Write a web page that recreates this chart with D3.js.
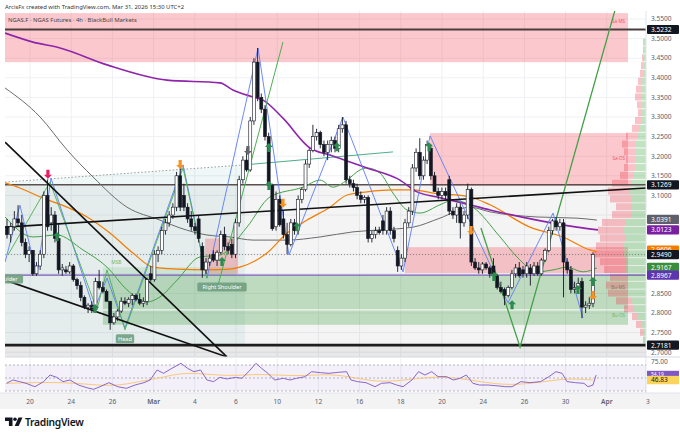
<!DOCTYPE html>
<html>
<head>
<meta charset="utf-8">
<script src="https://cdn.jsdelivr.net/npm/d3@7"></script>
<style>
body { margin: 0; background: #fff; }
svg { display: block; font-family: "Noto Sans", "DejaVu Sans", sans-serif; }
</style>
</head>
<body>
<div id="chart"></div>
<script>
// candles: [open, high, low, close], 4h bars, first bar time in trading days from Feb 20
var firstBarDay = -1.1165;
var barStepDays = 0.17891;
var ohlc = [
  [3.02,3.04,2.99,3.00],[3.00,3.03,2.98,3.02],[3.02,3.06,3.01,3.04],[3.04,3.075,3.02,3.03],
  [3.03,3.05,2.97,2.98],[2.98,2.99,2.94,2.95],[2.95,2.97,2.93,2.96],[2.96,2.96,2.895,2.90],
  [2.90,2.93,2.895,2.92],[2.92,2.96,2.91,2.95],[2.95,3.11,2.94,3.10],[3.10,3.14,3.01,3.02],
  [3.03,3.07,3.01,3.05],[3.05,3.06,2.98,2.99],[2.99,3.03,2.90,2.91],[2.91,2.925,2.895,2.915],
  [2.91,2.92,2.90,2.905],[2.905,2.93,2.90,2.92],[2.92,2.925,2.88,2.885],[2.885,2.89,2.86,2.87],
  [2.87,2.88,2.83,2.84],[2.84,2.845,2.81,2.815],[2.815,2.825,2.80,2.82],[2.82,2.83,2.80,2.81],
  [2.81,2.89,2.80,2.88],[2.88,2.91,2.86,2.865],[2.865,2.88,2.85,2.855],[2.855,2.86,2.83,2.83],
  [2.83,2.83,2.757,2.775],[2.775,2.80,2.77,2.79],[2.79,2.81,2.78,2.805],[2.805,2.84,2.80,2.83],
  [2.83,2.84,2.82,2.825],[2.825,2.84,2.815,2.835],[2.835,2.85,2.82,2.845],[2.845,2.85,2.83,2.835],
  [2.835,2.85,2.82,2.825],[2.825,2.84,2.815,2.83],[2.83,2.89,2.82,2.885],[2.90,2.92,2.88,2.885],
  [2.885,2.96,2.88,2.95],[2.95,2.97,2.93,2.96],[2.96,3.02,2.95,3.01],[3.01,3.04,3.00,3.03],
  [3.03,3.06,3.02,3.05],[3.05,3.08,3.04,3.07],[3.07,3.16,3.06,3.15],[3.15,3.17,3.06,3.07],
  [3.10,3.13,3.06,3.07],[3.07,3.08,3.03,3.04],[3.04,3.06,3.01,3.02],[3.02,3.03,3.00,3.01],
  [3.04,3.05,2.98,2.99],[2.97,2.98,2.89,2.91],[2.91,2.94,2.90,2.93],[2.93,2.95,2.92,2.94],
  [2.95,2.96,2.93,2.935],[2.935,2.96,2.92,2.955],[2.955,3.01,2.95,3.00],[3.00,3.02,2.96,2.97],
  [2.97,2.98,2.95,2.96],[2.975,2.99,2.94,2.95],[2.95,3.04,2.94,3.03],[3.03,3.15,3.02,3.14],
  [3.14,3.20,3.13,3.19],[3.19,3.22,3.16,3.165],[3.165,3.30,3.16,3.29],[3.29,3.45,3.28,3.44],
  [3.44,3.476,3.34,3.35],[3.35,3.36,3.31,3.32],[3.32,3.33,3.24,3.25],[3.25,3.26,3.12,3.125],
  [3.125,3.13,3.01,3.015],[3.02,3.11,3.01,3.09],[3.09,3.10,3.02,3.025],[3.04,3.06,2.99,3.00],
  [3.00,3.03,2.95,2.975],[2.975,3.04,2.97,3.03],[3.03,3.04,3.00,3.01],[3.01,3.10,3.00,3.09],
  [3.09,3.12,3.08,3.115],[3.115,3.19,3.11,3.18],[3.18,3.22,3.17,3.215],[3.215,3.28,3.21,3.25],
  [3.25,3.27,3.24,3.26],[3.26,3.265,3.22,3.23],[3.23,3.24,3.20,3.21],[3.21,3.24,3.19,3.23],
  [3.23,3.25,3.21,3.24],[3.24,3.25,3.21,3.22],[3.22,3.28,3.21,3.27],[3.27,3.30,3.26,3.28],
  [3.28,3.29,3.13,3.14],[3.14,3.15,3.12,3.13],[3.13,3.14,3.11,3.12],[3.12,3.13,3.09,3.10],
  [3.10,3.11,3.08,3.09],[3.09,3.10,3.08,3.095],[3.095,3.10,2.98,2.99],[2.99,3.01,2.98,3.00],
  [3.00,3.02,2.99,3.01],[3.01,3.02,3.00,3.005],[3.035,3.05,3.00,3.01],[3.01,3.07,3.00,3.06],
  [3.06,3.07,3.00,3.01],[3.01,3.02,2.98,2.99],[2.96,2.97,2.905,2.92],[2.92,2.95,2.91,2.94],
  [2.94,3.04,2.93,3.03],[3.03,3.07,3.02,3.06],[3.06,3.18,3.05,3.17],[3.17,3.22,3.16,3.21],
  [3.21,3.246,3.14,3.15],[3.15,3.20,3.14,3.19],[3.19,3.24,3.18,3.23],[3.22,3.23,3.14,3.15],
  [3.15,3.16,3.11,3.11],[3.11,3.12,3.09,3.10],[3.10,3.12,3.09,3.11],[3.11,3.12,3.09,3.10],
  [3.14,3.15,3.05,3.06],[3.06,3.07,3.04,3.05],[3.05,3.08,3.03,3.07],[3.07,3.08,2.99,3.03],
  [3.03,3.06,3.02,3.05],[3.05,3.13,3.04,3.115],[3.115,3.12,2.92,2.93],[2.93,2.94,2.91,2.915],
  [2.915,2.93,2.90,2.91],[2.91,2.93,2.90,2.925],[2.925,2.93,2.91,2.915],[2.915,2.92,2.89,2.90],
  [2.92,2.94,2.89,2.895],[2.895,2.90,2.86,2.865],[2.865,2.88,2.85,2.855],[2.86,2.865,2.82,2.845],
  [2.845,2.87,2.84,2.865],[2.865,2.91,2.86,2.90],[2.90,2.925,2.89,2.915],[2.915,2.93,2.89,2.895],
  [2.91,2.92,2.89,2.90],[2.90,2.93,2.89,2.92],[2.915,2.925,2.87,2.90],[2.90,2.93,2.895,2.92],
  [2.92,2.93,2.895,2.90],[2.90,2.94,2.895,2.935],[2.935,2.965,2.93,2.96],[2.96,3.02,2.955,3.01],
  [3.01,3.04,3.00,3.035],[3.035,3.045,3.01,3.02],[3.02,3.04,3.01,3.03],[3.03,3.04,2.84,2.93],
  [2.93,2.94,2.90,2.91],[2.91,2.92,2.85,2.86],[2.86,2.88,2.85,2.865],[2.865,2.89,2.86,2.875],
  [2.88,2.89,2.787,2.815],[2.815,2.83,2.80,2.82],[2.82,2.84,2.81,2.825],[2.825,2.955,2.815,2.949]
];

// time axis
var dayTicks = [0,2,4,6,8,10,12,14,16,18,20,22,24,26,28,30];
var dayLabels = ["20","24","26","Mar","4","6","10","12","16","18","20","24","26","30","Apr","3"];
var priceTicks = [3.55,3.50,3.45,3.40,3.35,3.30,3.25,3.20,3.15,3.10,3.05,3.00,2.95,2.90,2.85,2.80,2.75,2.70];

// moving averages: [day, price]
var maPurple = [[-1.21,3.514],[0.15,3.491],[1.46,3.476],[3.74,3.433],[6.65,3.394],[9.22,3.387],[9.85,3.369],
  [10.83,3.351],[11.31,3.343],[12.28,3.297],[13.59,3.221],[14.56,3.203],[16.36,3.170],[17.96,3.139],
  [18.79,3.109],[19.76,3.096],[21.36,3.076],[22.33,3.063],[24.61,3.037],[26.55,3.019],[27.57,3.012]];
var maOrange = [[-1.21,3.132],[-0.49,3.119],[0.63,3.093],[1.80,3.070],[2.77,3.045],[3.88,3.004],[5.0,2.953],
  [5.97,2.917],[7.14,2.912],[8.59,2.910],[9.71,2.912],[10.19,2.917],[11.50,2.953],[12.48,3.004],[13.45,3.037],
  [14.56,3.070],[15.39,3.101],[16.36,3.109],[17.62,3.114],[18.59,3.114],[19.56,3.106],[21.36,3.096],
  [22.33,3.076],[24.27,3.019],[25.87,2.994],[27.18,2.961],[27.52,2.956]];
var maGreen = [[-1.21,3.045],[0.15,2.994],[1.31,2.999],[2.57,2.961],[3.74,2.917],[4.71,2.859],[5.68,2.828],
  [6.31,2.841],[7.14,2.884],[8.25,2.943],[9.22,2.948],[10.53,3.019],[11.65,3.096],[13.25,3.121],[14.08,3.139],
  [14.71,3.121],[15.39,3.139],[16.02,3.165],[16.36,3.170],[16.99,3.157],[17.62,3.106],[18.30,3.063],
  [18.93,3.055],[19.90,3.076],[20.53,3.088],[21.50,3.070],[22.82,2.994],[23.64,2.943],[24.61,2.905],
  [25.39,2.910],[26.07,2.917],[26.84,2.905],[27.52,2.915]];
var maGray = [[-1.21,3.374],[0.49,3.300],[1.80,3.216],[3.06,3.147],[4.71,3.070],[6.31,3.037],[7.28,3.017],
  [8.59,2.999],[9.71,2.994],[10.83,2.986],[12.48,2.986],[14.08,2.994],[15.68,3.007],[16.99,3.012],
  [18.59,3.019],[19.90,3.042],[21.36,3.070],[22.33,3.058],[24.61,3.045],[26.55,3.042],[27.52,3.037]];

// swing lines
var zigBlue = [[-1.21,2.930],[-0.49,3.075],[0.34,2.897],[1.02,3.144],[3.11,2.808],[3.74,2.889],[4.61,2.762],
  [7.43,3.178],[8.59,2.889],[11.07,3.476],[12.57,2.948],[15.19,3.300],[18.11,2.905],[19.42,3.252],
  [23.20,2.826],[25.39,3.055],[26.84,2.787]];
var zigGreen = [[-1.07,2.948],[0.97,3.134],[3.25,2.808],[3.74,2.910],[4.61,2.757],[7.43,3.170],[8.59,2.889]];
var greenRay = [[9.13,2.871],[12.28,3.491]];
var greenV = [[21.89,3.017],[23.79,2.713],[28.40,3.573]];
var dottedRange = [[-1.21,3.134],[10.44,3.178]];
var tealLine = [[10.44,3.178],[17.62,3.211]];

// trend lines
var trendRise = [[-1.21,3.019],[29.90,3.119]];
var trendFallSteep = [[-1.21,3.236],[9.56,2.688]];
var trendFallFlat = [[-1.21,2.884],[9.56,2.688]];

// horizontal levels
var levelTop = 3.5232, levelMid = 3.1269, levelLow = 2.7181, pivotLevel = 2.8967, lastPrice = 2.9490;

// zones: [day0, day1, priceLow, priceHigh]
var supplyZones = [[-1.2136,29.03,3.44,3.565],[19.42,29.03,3.124,3.259],[18.2,29.03,2.902,2.968],[8.5,10.1,2.90,2.99]];
var demandZones = [[3.54,29.03,2.77,2.895],[3.54,10.0,2.895,2.917]];
var zoneNames = ["Sa-MS","Sa-OS","Bu-MS","Bu-OS"];
var zoneNamePrices = [3.54,3.19,2.86,2.79];

// visible range volume profile (0.02 bins)
var profilePrices = [3.49,3.47,3.45,3.43,3.41,3.39,3.37,3.35,3.33,3.31,3.29,3.27,3.25,3.23,3.21,3.19,3.17,3.15,3.13,
  3.11,3.09,3.07,3.05,3.03,3.01,2.99,2.97,2.95,2.93,2.91,2.89,2.87,2.85,2.83,2.81,2.79,2.77,2.75,2.73];
var profileUp = [2,2,2,3,3,4,4,5,5,4,5,6,9,11,11,10,11,12,14,16,15,14,15,20,22,20,22,22,20,20,18,18,18,14,12,8,5,3,2];
var profileDown = [1,1,2,2,3,4,6,6,4,4,6,8,11,13,11,10,11,14,20,22,21,16,19,24,26,26,28,30,26,22,18,22,20,16,10,6,5,3,1];

// signal markers [day, price]
var upSignals = [[1.31,2.994],[3.16,2.810],[9.32,2.930],[11.6,3.221],[11.6,3.124],[12.96,3.019],[14.9,3.223],
  [19.37,3.223],[22.52,2.892],[23.40,2.820],[26.6,2.859],[27.33,2.879]];
var downOrange = [[7.29,3.18],[12.28,3.081],[21.41,3.012],[27.33,2.846]];
var downPink = [[0.87,3.155]];
var downGray = [[10.58,3.216]];

// pattern labels
var patternNames = ["Left Shoulder","Head","Right Shoulder"];
var patternDays = [-1.46,4.61,9.32];
var patternPrices = [2.91,2.757,2.889];

// RSI pane
var rsiPts = [[-1.14,41.8],[-0.83,46.9],[-0.50,44.4],[-0.19,41.8],[0.24,36.6],[0.66,44.4],[0.97,54.6],[1.30,51],
  [1.60,44.4],[1.94,46.9],[2.35,39.2],[2.77,35],[3.09,32.6],[3.40,36.6],[3.83,42.8],[4.26,36.6],[4.68,34.1],
  [5.10,39.2],[5.53,42.8],[5.83,46.9],[6.17,62.3],[6.48,57.2],[6.89,64.9],[7.33,72.6],[7.65,64.9],[7.96,59.7],
  [8.28,62.3],[8.59,46.9],[8.91,44.4],[9.22,51],[9.55,48.5],[9.97,51],[10.29,49.5],[10.61,59.7],[10.97,72.6],
  [11.24,64.9],[11.55,57.2],[11.87,46.9],[12.30,49.5],[12.62,46.9],[12.93,49.5],[13.35,52],[13.67,59.7],
  [14.10,58.2],[14.51,57.2],[14.94,58.7],[15.37,59.7],[15.58,46.9],[15.90,44.4],[16.31,42.8],[16.75,36.6],
  [17.06,41.8],[17.48,42.8],[17.80,39.2],[18.11,36.6],[18.54,46.9],[18.86,59.7],[19.17,54.6],[19.50,59.7],
  [19.81,52],[20.23,52],[20.55,46.9],[20.87,49.5],[21.18,54.6],[21.50,41.8],[21.82,39.2],[22.24,39.2],
  [22.67,38],[23.09,36.6],[23.40,36.6],[23.83,44.4],[24.27,42.8],[24.78,44.4],[25.19,52],[25.53,59.7],
  [25.83,57.2],[26.07,44.4],[26.48,42.8],[26.89,41.8],[27.09,36.6],[27.33,39.2],[27.48,54.6]];
var rsiMaPts = [[-1.14,41.8],[1.70,44.4],[3.83,36.6],[4.90,41.8],[6.60,52],[7.62,59.7],[9.56,52],[11.21,57],
  [12.91,52],[14.61,57],[15.87,49.5],[17.14,42.8],[18.83,49.5],[20.10,53],[21.84,44.4],[23.30,38],[25.0,44.4],
  [26.07,49.5],[27.33,47]];
var rsiBands = [70,50,30];

// last-value tags on the price scale
var tagValues = [3.5232,3.1269,3.0391,3.0123,2.9606,2.9490,2.9167,2.8967,2.7181];
var tagKinds = ["level","level","sma","ema200","ema50","last","ema20","pivot","level"];

function init() {
    var w = 680;
    var h = 437;

    var plotL = 5, plotR = 646, plotT = 11, plotB = 357;
    var rsiT = 357, rsiB = 393;

    var x = d3.scaleLinear().domain([-1.2136, 29.903]).range([plotL, plotR]);
    var y = d3.scaleLinear().domain([2.6878, 3.5704]).range([plotB, plotT]);
    var yr = d3.scaleLinear().domain([30, 70]).range([391, 365]);
    var vol = d3.scaleLinear().domain([0, 60]).range([0, 60]);

    var tagColor = {level: "#131722", sma: "#5d606b", ema200: "#7b1fa2", ema50: "#f57c00",
                    last: "#131722", ema20: "#388e3c", pivot: "#5e35b1"};

    var svg = d3.select("#chart")
        .append("svg")
        .attr("width", w)
        .attr("height", h);

    svg.append("rect").attr("width", w).attr("height", h).attr("fill", "#fff");

    var defs = svg.append("defs");
    defs.append("clipPath").attr("id", "plotClip")
        .append("rect").attr("x", plotL).attr("y", plotT).attr("width", plotR - plotL).attr("height", plotB - plotT);
    defs.append("clipPath").attr("id", "rsiClip")
        .append("rect").attr("x", plotL).attr("y", rsiT).attr("width", plotR - plotL).attr("height", rsiB - rsiT);

    var line = d3.line().x(function(d){ return x(d[0]); }).y(function(d){ return y(d[1]); });
    var smooth = d3.line().x(function(d){ return x(d[0]); }).y(function(d){ return y(d[1]); })
        .curve(d3.curveMonotoneX);

    var plot = svg.append("g").attr("clip-path", "url(#plotClip)");

    // grid
    plot.selectAll(".vg").data(dayTicks).enter().append("line")
        .attr("x1", function(d){ return x(d); }).attr("x2", function(d){ return x(d); })
        .attr("y1", plotT).attr("y2", plotB)
        .attr("stroke", "#eef0f3").attr("stroke-width", 1);
    plot.selectAll(".hg").data(priceTicks).enter().append("line")
        .attr("x1", plotL).attr("x2", plotR)
        .attr("y1", function(d){ return y(d); }).attr("y2", function(d){ return y(d); })
        .attr("stroke", "#eef0f3").attr("stroke-width", 1);

    // range backgrounds
    plot.append("rect")
        .attr("x", plotL).attr("width", plotR - plotL)
        .attr("y", y(levelMid)).attr("height", y(levelLow) - y(levelMid))
        .attr("fill", "#000").attr("opacity", 0.045);
    plot.append("rect")
        .attr("x", plotL).attr("width", plotR - plotL)
        .attr("y", y(levelLow)).attr("height", plotB - y(levelLow))
        .attr("fill", "#000").attr("opacity", 0.09);
    plot.append("path")
        .attr("d", line([dottedRange[0], dottedRange[1], [dottedRange[1][0], levelLow], [dottedRange[0][0], levelLow]]) + "Z")
        .attr("fill", "#00897b").attr("opacity", 0.06);

    // zones
    plot.selectAll(".sz").data(supplyZones).enter().append("rect")
        .attr("x", function(d){ return x(d[0]); })
        .attr("width", function(d){ return x(d[1]) - x(d[0]); })
        .attr("y", function(d){ return y(d[3]); })
        .attr("height", function(d){ return y(d[2]) - y(d[3]); })
        .attr("fill", "#f23645").attr("fill-opacity", 0.27);
    plot.selectAll(".dz").data(demandZones).enter().append("rect")
        .attr("x", function(d){ return x(d[0]); })
        .attr("width", function(d){ return x(d[1]) - x(d[0]); })
        .attr("y", function(d){ return y(d[3]); })
        .attr("height", function(d){ return y(d[2]) - y(d[3]); })
        .attr("fill", function(d, i){ return i === 0 ? "#43a047" : "#66bb6a"; })
        .attr("fill-opacity", function(d, i){ return i === 0 ? 0.3 : 0.18; });
    plot.append("line")
        .attr("x1", x(demandZones[0][0])).attr("x2", x(demandZones[0][1]))
        .attr("y1", y(2.808)).attr("y2", y(2.808))
        .attr("stroke", "#fff").attr("stroke-width", 1.2).attr("opacity", 0.8);

    // volume profile
    var binH = y(3.47) - y(3.49);
    var prof = plot.append("g");
    prof.selectAll(".pu").data(profilePrices).enter().append("rect")
        .attr("x", function(d, i){ return plotR - vol(profileUp[i]); })
        .attr("width", function(d, i){ return vol(profileUp[i]); })
        .attr("y", function(d){ return y(d) - binH / 2; })
        .attr("height", binH - 0.8)
        .attr("fill", "#4caf50").attr("fill-opacity", 0.35);
    prof.selectAll(".pd").data(profilePrices).enter().append("rect")
        .attr("x", function(d, i){ return plotR - vol(profileUp[i]) - vol(profileDown[i]); })
        .attr("width", function(d, i){ return vol(profileDown[i]); })
        .attr("y", function(d){ return y(d) - binH / 2; })
        .attr("height", binH - 0.8)
        .attr("fill", "#f23645").attr("fill-opacity", 0.3);

    // zone names
    plot.selectAll(".zn").data(zoneNames).enter().append("text")
        .attr("x", x(29.03) - 3).attr("y", function(d, i){ return y(zoneNamePrices[i]); })
        .attr("text-anchor", "end").attr("font-size", 4.5)
        .attr("fill", function(d, i){ return ["#f7525f","#f7525f","#8d6e63","#66bb6a"][i]; })
        .text(function(d){ return d; });

    // dotted range line and teal line
    plot.append("path").attr("d", line(dottedRange)).attr("fill", "none")
        .attr("stroke", "#9e9e9e").attr("stroke-width", 1).attr("stroke-dasharray", "1.5,2");
    plot.append("path").attr("d", line(tealLine)).attr("fill", "none")
        .attr("stroke", "#4caf8a").attr("stroke-width", 1);

    // horizontal levels
    plot.append("line").attr("x1", plotL).attr("x2", plotR)
        .attr("y1", y(levelTop)).attr("y2", y(levelTop))
        .attr("stroke", "#4a3c3c").attr("stroke-width", 2.2);
    plot.append("line").attr("x1", plotL).attr("x2", plotR)
        .attr("y1", y(levelMid)).attr("y2", y(levelMid))
        .attr("stroke", "#5a5050").attr("stroke-width", 1.5);
    plot.append("line").attr("x1", plotL).attr("x2", plotR)
        .attr("y1", y(levelLow)).attr("y2", y(levelLow))
        .attr("stroke", "#1e1e1e").attr("stroke-width", 2.6);
    plot.append("line").attr("x1", plotL).attr("x2", plotR)
        .attr("y1", y(pivotLevel)).attr("y2", y(pivotLevel))
        .attr("stroke", "#5e35b1").attr("stroke-width", 1);
    plot.append("line").attr("x1", plotL).attr("x2", plotR)
        .attr("y1", y(lastPrice)).attr("y2", y(lastPrice))
        .attr("stroke", "#777").attr("stroke-width", 0.8).attr("stroke-dasharray", "1,2");

    // moving averages
    plot.append("path").attr("d", smooth(maGray)).attr("fill", "none").attr("stroke", "#6b6b6b").attr("stroke-width", 1);
    plot.append("path").attr("d", smooth(maGreen)).attr("fill", "none").attr("stroke", "#43a047").attr("stroke-width", 1);
    plot.append("path").attr("d", smooth(maOrange)).attr("fill", "none").attr("stroke", "#f57c00").attr("stroke-width", 1.2);
    plot.append("path").attr("d", smooth(maPurple)).attr("fill", "none").attr("stroke", "#8e24aa").attr("stroke-width", 1.6);

    // swing lines
    plot.append("path").attr("d", line(zigBlue)).attr("fill", "none").attr("stroke", "#5c7cfa").attr("stroke-width", 0.9);
    plot.append("path").attr("d", line(zigGreen)).attr("fill", "none").attr("stroke", "#4caf50").attr("stroke-width", 0.9);
    plot.append("path").attr("d", line(greenRay)).attr("fill", "none").attr("stroke", "#4caf50").attr("stroke-width", 1);
    plot.append("path").attr("d", line(greenV)).attr("fill", "none").attr("stroke", "#43a047").attr("stroke-width", 1.3);

    // trend lines
    [trendRise, trendFallSteep, trendFallFlat].forEach(function(t){
        plot.append("path").attr("d", line(t)).attr("fill", "none")
            .attr("stroke", "#111").attr("stroke-width", 1.6);
    });

    // candles
    var bw = 3;
    var candles = plot.selectAll(".candle").data(ohlc).enter().append("g");
    candles.append("line")
        .attr("x1", function(d, i){ return x(firstBarDay + i * barStepDays); })
        .attr("x2", function(d, i){ return x(firstBarDay + i * barStepDays); })
        .attr("y1", function(d){ return y(d[1]); })
        .attr("y2", function(d){ return y(d[2]); })
        .attr("stroke", "#131722").attr("stroke-width", 0.9);
    candles.append("rect")
        .attr("x", function(d, i){ return x(firstBarDay + i * barStepDays) - bw / 2; })
        .attr("width", bw)
        .attr("y", function(d){ return y(Math.max(d[0], d[3])); })
        .attr("height", function(d){ return Math.max(0.8, Math.abs(y(d[0]) - y(d[3]))); })
        .attr("fill", function(d){ return d[3] >= d[0] ? "#fff" : "#131722"; })
        .attr("stroke", "#131722").attr("stroke-width", 0.6);

    // signal arrows
    var upPath = "M0,-5 L4,-1 L1.6,-1 L1.6,4 L-1.6,4 L-1.6,-1 L-4,-1 Z";
    var downPath = "M0,5 L4,1 L1.6,1 L1.6,-4 L-1.6,-4 L-1.6,1 L-4,1 Z";
    function arrows(data, path, color) {
        plot.selectAll(null).data(data).enter().append("path")
            .attr("d", path)
            .attr("transform", function(d){ return "translate(" + x(d[0]) + "," + y(d[1]) + ")"; })
            .attr("fill", color);
    }
    arrows(upSignals, upPath, "#2e8b4f");
    arrows(downOrange, downPath, "#f7931e");
    arrows(downPink, downPath, "#e91e63");
    arrows(downGray, downPath, "#666");

    // pattern labels
    var pl = plot.selectAll(".pl").data(patternNames).enter().append("g")
        .attr("transform", function(d, i){ return "translate(" + x(patternDays[i]) + "," + (y(patternPrices[i]) + 9) + ")"; });
    pl.append("rect")
        .attr("x", function(d){ return -d.length * 1.55 - 3; })
        .attr("width", function(d){ return d.length * 3.1 + 6; })
        .attr("y", -4.5).attr("height", 9).attr("rx", 1.5)
        .attr("fill", "#6f9f80").attr("opacity", 0.9);
    pl.append("text").attr("text-anchor", "middle").attr("y", 2)
        .attr("font-size", 5.6).attr("fill", "#fff").text(function(d){ return d; });
    plot.append("text").attr("x", x(3.95)).attr("y", y(2.925))
        .attr("font-size", 4.8).attr("fill", "#66bb6a").text("MSB");

    // separators, axis background
    svg.append("rect").attr("x", plotR).attr("y", 0).attr("width", w - plotR).attr("height", 409).attr("fill", "#fff");
    svg.append("line").attr("x1", plotR).attr("x2", plotR).attr("y1", plotT).attr("y2", 409)
        .attr("stroke", "#e0e3eb");
    svg.append("line").attr("x1", plotL).attr("x2", w).attr("y1", plotB).attr("y2", plotB)
        .attr("stroke", "#d6d9e0");

    // price axis; tick labels hidden where a value tag sits on them
    var freeTicks = priceTicks.filter(function(p){
        return tagValues.every(function(t){ return Math.abs(y(p) - y(t)) > 7; });
    });
    svg.selectAll(".pt").data(freeTicks).enter().append("text")
        .attr("x", 651).attr("y", function(d){ return y(d) + 2.3; })
        .attr("font-size", 6.6).attr("fill", "#5d606b")
        .text(function(d){ return d.toFixed(4); });
    var tags = svg.selectAll(".tag").data(tagValues).enter().append("g")
        .attr("transform", function(d){ return "translate(647," + y(d) + ")"; });
    tags.append("rect").attr("x", 0).attr("y", -4.6).attr("width", 32).attr("height", 9.2).attr("rx", 1)
        .attr("fill", function(d, i){ return tagColor[tagKinds[i]]; });
    tags.append("text").attr("x", 4).attr("y", 2.4).attr("font-size", 6.6).attr("fill", "#fff")
        .text(function(d){ return d.toFixed(4); });

    // RSI pane
    var rsi = svg.append("g").attr("clip-path", "url(#rsiClip)");
    rsi.selectAll(".rg").data(dayTicks).enter().append("line")
        .attr("x1", function(d){ return x(d); }).attr("x2", function(d){ return x(d); })
        .attr("y1", rsiT).attr("y2", rsiB).attr("stroke", "#eef0f3");
    rsi.append("rect").attr("x", plotL).attr("width", plotR - plotL)
        .attr("y", yr(70)).attr("height", yr(30) - yr(70))
        .attr("fill", "#7e57c2").attr("opacity", 0.09);
    rsi.selectAll(".rb").data(rsiBands).enter().append("line")
        .attr("x1", plotL).attr("x2", plotR)
        .attr("y1", function(d){ return yr(d); }).attr("y2", function(d){ return yr(d); })
        .attr("stroke", "#9598a1").attr("stroke-width", 0.7).attr("stroke-dasharray", "2,2");
    var rline = d3.line().x(function(d){ return x(d[0]); }).y(function(d){ return yr(d[1]); });
    rsi.append("path").attr("d", rline.curve(d3.curveBasis)(rsiMaPts)).attr("fill", "none")
        .attr("stroke", "#f9c97a").attr("stroke-width", 1);
    rsi.append("path").attr("d", rline.curve(d3.curveLinear)(rsiPts)).attr("fill", "none")
        .attr("stroke", "#7e57c2").attr("stroke-width", 0.9);

    svg.append("text").attr("x", 651).attr("y", yr(75) + 2.3).attr("font-size", 6.6).attr("fill", "#5d606b").text("75.00");
    var lastRsi = rsiPts[rsiPts.length - 1][1];
    var lastMa = 46.83;
    svg.append("rect").attr("x", 647).attr("y", yr(lastRsi) - 4.2).attr("width", 32).attr("height", 8.4).attr("fill", "#7e57c2");
    svg.append("text").attr("x", 651).attr("y", yr(lastRsi) + 1).attr("font-size", 5).attr("fill", "#fff").text("54.19");
    svg.append("rect").attr("x", 647).attr("y", yr(lastMa) - 4.2).attr("width", 32).attr("height", 8.4).attr("fill", "#fbd55b");
    svg.append("text").attr("x", 651).attr("y", yr(lastMa) + 2.2).attr("font-size", 6.6).attr("fill", "#131722").text(lastMa.toFixed(2));

    // time axis
    svg.append("rect").attr("x", 0).attr("y", rsiB).attr("width", w).attr("height", 16).attr("fill", "#f3f3f3");
    svg.append("line").attr("x1", 0).attr("x2", w).attr("y1", rsiB).attr("y2", rsiB).attr("stroke", "#e0e3eb");
    svg.selectAll(".tl").data(dayTicks).enter().append("text")
        .attr("x", function(d){ return x(d); }).attr("y", 403.5)
        .attr("text-anchor", "middle").attr("font-size", 6.6)
        .attr("font-weight", function(d, i){ return (dayLabels[i] === "Mar" || dayLabels[i] === "Apr") ? 600 : 400; })
        .attr("fill", "#5d606b")
        .text(function(d, i){ return dayLabels[i]; });

    // header
    svg.append("text").attr("x", 5).attr("y", 8.5).attr("font-size", 5.9).attr("fill", "#333")
        .text("ArcisFx created with TradingView.com, Mar 31, 2026 15:30 UTC+2");
    svg.append("text").attr("x", 8).attr("y", 22).attr("font-size", 5.9).attr("fill", "#444")
        .text("NGAS.F · NGAS Futures · 4h · BlackBull Markets");

    // TradingView wordmark
    var logo = svg.append("g").attr("fill", "#131722");
    logo.append("path").attr("d", "M5,417.5 h7.5 v8.5 h-3.6 v-5 h-3.9 z");
    logo.append("circle").attr("cx", 15).attr("cy", 419.3).attr("r", 1.8);
    logo.append("path").attr("d", "M18.5,417.5 h4 l-3.8,8.5 h-4 z");
    logo.append("text").attr("x", 25).attr("y", 426).attr("font-size", 10.3).attr("font-weight", 600)
        .attr("letter-spacing", -0.3).text("TradingView");
}

window.onload = init;
</script>
</body>
</html>
